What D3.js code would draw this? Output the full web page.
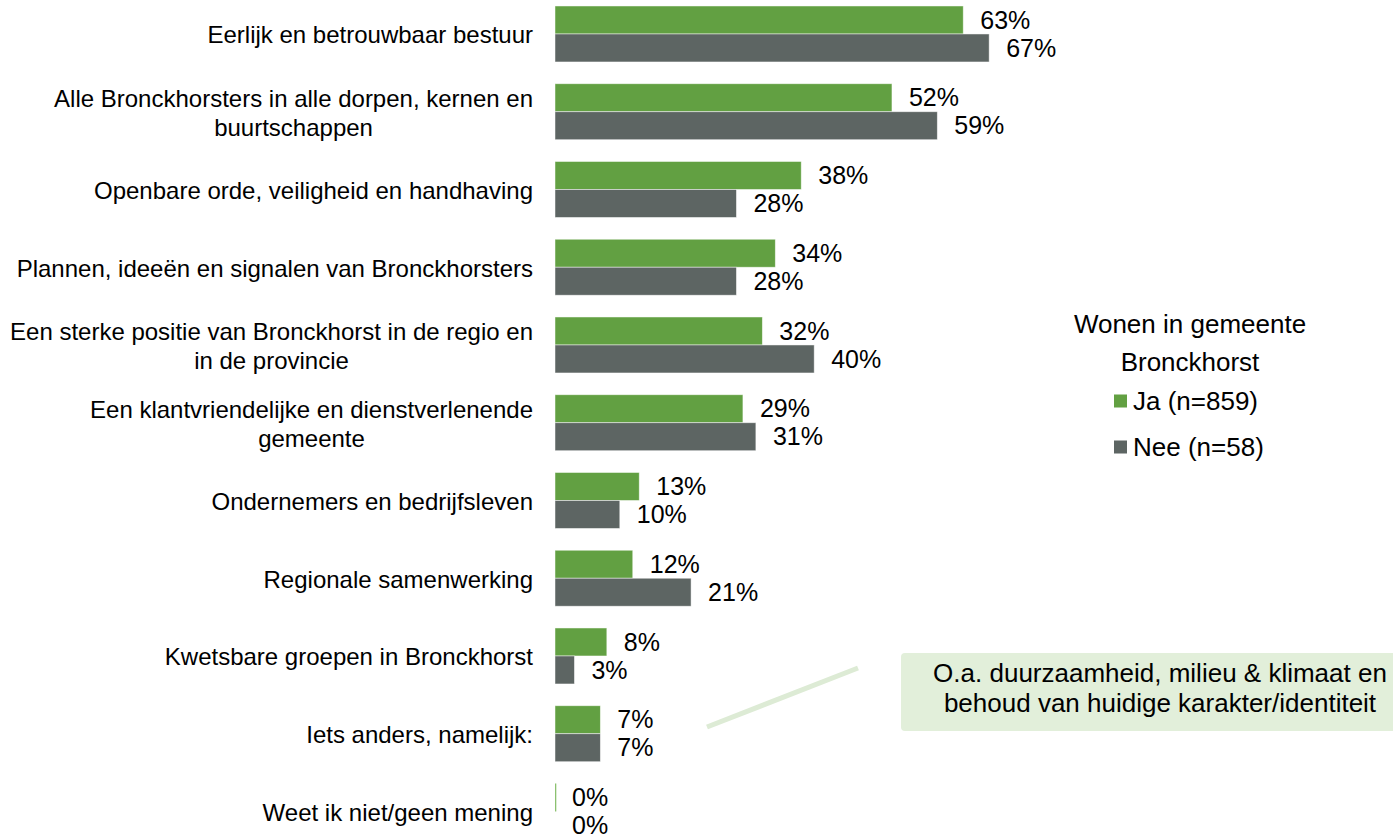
<!DOCTYPE html>
<html>
<head>
<meta charset="utf-8">
<script src="https://cdn.jsdelivr.net/npm/d3@7"></script>
<style>
  html, body { margin: 0; padding: 0; background: #fff; }
  svg { display: block; font-family: "Liberation Sans", Arial, Helvetica, sans-serif; }
</style>
</head>
<body>
<svg id="chart" width="1393" height="839"></svg>
<script>
// ---- data ----
const categories = [
  "Eerlijk en betrouwbaar bestuur",
  "Alle Bronckhorsters in alle dorpen, kernen en|buurtschappen",
  "Openbare orde, veiligheid en handhaving",
  "Plannen, ideeën en signalen van Bronckhorsters",
  "Een sterke positie van Bronckhorst in de regio en|in de provincie",
  "Een klantvriendelijke en dienstverlenende|gemeente",
  "Ondernemers en bedrijfsleven",
  "Regionale samenwerking",
  "Kwetsbare groepen in Bronckhorst",
  "Iets anders, namelijk:",
  "Weet ik niet/geen mening"
];
const seriesNames = ["Ja (n=859)", "Nee (n=58)"];
const jaValues  = [63, 52, 38, 34, 32, 29, 13, 12, 8, 7, 0];
const neeValues = [67, 59, 28, 28, 40, 31, 10, 21, 3, 7, 0];
const legendTitle = ["Wonen in gemeente", "Bronckhorst"];
const annotationLines = ["O.a. duurzaamheid, milieu & klimaat en", "behoud van huidige karakter/identiteit"];

// ---- styles ----
const colors = ["#62A042", "#5D6563"];
const zeroColor = "#8CC170";

const svg = d3.select("#chart");

const x = d3.scaleLinear().domain([0, 100]).range([555, 1203]);
const y = d3.scaleBand().domain(categories).range([-4.9, 850.35]).paddingInner(0.28).paddingOuter(0.14);
const ySub = d3.scaleBand().domain(seriesNames).range([0, y.bandwidth()]);

const rows = categories.map((c, i) => ({ cat: c, vals: [jaValues[i], neeValues[i]] }));

// bars
const g = svg.append("g");
const groups = g.selectAll("g.cat").data(rows).join("g")
  .attr("class", "cat")
  .attr("transform", d => `translate(0,${y(d.cat)})`);

groups.selectAll("rect").data(d => d.vals.map((v, k) => ({ v, k })))
  .join("rect")
  .attr("x", x(0))
  .attr("y", d => ySub(seriesNames[d.k]))
  .attr("width", d => d.v === 0 ? (d.k === 0 ? 1.3 : 0) : x(d.v) - x(0))
  .attr("height", ySub.bandwidth())
  .attr("fill", d => d.v === 0 ? zeroColor : colors[d.k])
  .attr("stroke", d => d.v === 0 ? "none" : "rgba(255,255,255,0.6)")
  .attr("stroke-width", 0.8);

groups.selectAll("text.val").data(d => d.vals.map((v, k) => ({ v, k })))
  .join("text")
  .attr("class", "val")
  .attr("x", d => x(d.v) + 17)
  .attr("y", d => ySub(seriesNames[d.k]) + ySub.bandwidth() / 2)
  .attr("dy", "0.35em")
  .attr("font-size", 25)
  .attr("fill", "#000")
  .text(d => d.v + "%");

// category axis
const axis = d3.axisLeft(y).tickSize(0).tickPadding(22);
const ax = svg.append("g").attr("transform", `translate(${x(0)},0)`).call(axis);
ax.select(".domain").remove();
ax.selectAll(".tick text").each(function(d) {
  const t = d3.select(this);
  const lines = d.split("|");
  t.text(null)
    .attr("font-size", 24)
    .attr("font-family", "'Liberation Sans', Arial, sans-serif")
    .attr("fill", "#000");
  if (lines.length === 1) {
    t.attr("text-anchor", "end").attr("x", -22).attr("y", 1).attr("dy", "0.35em").text(lines[0]);
  } else {
    const lh = 29;
    const spans = lines.map((l, i) => t.append("tspan")
      .attr("y", 1 + (i - (lines.length - 1) / 2) * lh)
      .attr("dy", "0.35em")
      .text(l));
    const widths = spans.map(s => s.node().getComputedTextLength());
    const maxW = Math.max(...widths);
    t.attr("text-anchor", "middle");
    spans.forEach(s => s.attr("x", -22 - maxW / 2));
  }
});

// legend
const leg = svg.append("g");
leg.selectAll("text.title").data(legendTitle).join("text")
  .attr("class", "title")
  .attr("x", 1190)
  .attr("y", (d, i) => 324 + i * 38)
  .attr("dy", "0.35em")
  .attr("text-anchor", "middle")
  .attr("font-size", 26)
  .attr("fill", "#000")
  .text(d => d);
const items = leg.selectAll("g.item").data(seriesNames).join("g")
  .attr("class", "item")
  .attr("transform", (d, i) => `translate(1114,${401 + i * 46})`);
items.append("rect").attr("x", 0).attr("y", -6.5).attr("width", 13).attr("height", 13)
  .attr("fill", (d, i) => colors[i]);
items.append("text").attr("x", 19).attr("y", 0).attr("dy", "0.35em")
  .attr("font-size", 26).attr("fill", "#000").text(d => d);

// annotation
svg.append("line")
  .attr("x1", 707).attr("y1", 727).attr("x2", 858).attr("y2", 668)
  .attr("stroke", "#DDEBD5").attr("stroke-width", 5);
svg.append("rect")
  .attr("x", 901).attr("y", 653).attr("width", 520).attr("height", 78).attr("rx", 4)
  .attr("fill", "#E2EFDA");
svg.selectAll("text.ann").data(annotationLines).join("text")
  .attr("class", "ann")
  .attr("x", 1160)
  .attr("y", (d, i) => 673 + i * 30)
  .attr("dy", "0.35em")
  .attr("text-anchor", "middle")
  .attr("font-size", 26)
  .attr("fill", "#000")
  .text(d => d);
</script>
</body>
</html>
